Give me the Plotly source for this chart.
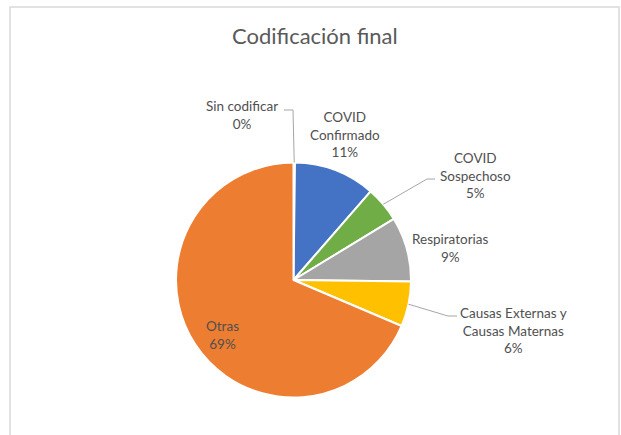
import math
import plotly.graph_objects as go

# ---- data ----
categories = ["Sin codificar", "COVID Confirmado", "COVID Sospechoso",
              "Respiratorias", "Causas Externas y Causas Maternas", "Otras"]
display_labels = ["Sin codificar", "COVID<br>Confirmado", "COVID<br>Sospechoso",
                  "Respiratorias", "Causas Externas y<br>Causas Maternas", "Otras"]
values = [0.2, 11.2, 4.9, 8.9, 6.2, 68.6]
colors = ["#5B9BD5", "#4472C4", "#70AD47", "#A5A5A5", "#FFC000", "#ED7D31"]
title_text = "Codificación final"

# ---- layout constants ----
W, H = 621, 435
CX, CY, R = 293.5, 280.0, 117.5
FONT = "Lato"

def px(x):
    return x / W

def py(y):
    return 1 - y / H

total = sum(values)
pct = [round(v / total * 100) for v in values]
texts = [f"{d}<br>{p}%" for d, p in zip(display_labels, pct)]

fig = go.Figure(go.Pie(
    labels=categories,
    values=values,
    sort=False,
    direction="clockwise",
    rotation=0,
    marker=dict(colors=colors, line=dict(color="white", width=2)),
    textinfo="none",
    hoverinfo="label+percent",
    showlegend=False,
    domain=dict(x=[px(CX - R), px(CX + R)], y=[py(CY + R), py(CY - R)]),
))

# label positions (pixel centres) and leader-line elbows
label_pos = [(242, 115), (345, 134), (475, 175), (450, 248), (513, 330), (222, 335)]
label_colors = ["#505050"] * 6
leaders = {
    0: [(293, 110), (284, 110)],
    2: [(427, 179), (435, 179)],
    4: [(448, 316), (457, 316)],
}

annotations = [dict(
    x=px(315), y=py(36), xref="paper", yref="paper",
    text=title_text, showarrow=False,
    font=dict(family=FONT, size=22, color="#595959"),
    xanchor="center", yanchor="middle",
)]
for i, (t, (lx, ly)) in enumerate(zip(texts, label_pos)):
    annotations.append(dict(
        x=px(lx), y=py(ly), xref="paper", yref="paper", text=t, showarrow=False,
        font=dict(family=FONT, size=13.5, color=label_colors[i]),
        xanchor="center", yanchor="middle", align="center",
    ))

shapes = [dict(type="rect", xref="paper", yref="paper",
               x0=px(10), x1=px(619), y0=py(440), y1=py(7),
               line=dict(color="#D9D9D9", width=1.5), fillcolor="rgba(0,0,0,0)",
               layer="below")]

cum = 0.0
for i, v in enumerate(values):
    mid = (cum + v / 2) / total * 2 * math.pi
    cum += v
    if i in leaders:
        ex, ey = CX + R * math.sin(mid), CY - R * math.cos(mid)
        pts = [(ex, ey)] + leaders[i]
        path = "M " + " L ".join(f"{px(a)},{py(b)}" for a, b in pts)
        shapes.append(dict(type="path", xref="paper", yref="paper", path=path,
                           line=dict(color="#A6A6A6", width=1)))

fig.update_layout(
    width=W, height=H, autosize=False,
    margin=dict(l=0, r=0, t=0, b=0),
    paper_bgcolor="white", plot_bgcolor="white",
    annotations=annotations, shapes=shapes,
)

fig.write_html("out.html",
               config={"displayModeBar": False},
               post_script="document.body.style.margin='0';"
                           "document.body.style.overflow='hidden';")
